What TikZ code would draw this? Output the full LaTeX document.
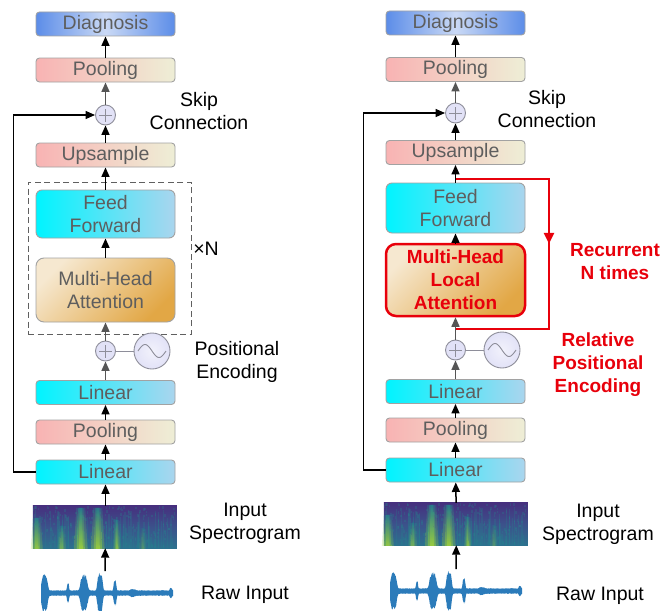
\documentclass[tikz,border=0pt]{standalone}
\usepackage{fontspec}
\setmainfont{Liberation Sans}
\usetikzlibrary{arrows.meta,decorations.markings}

\definecolor{boxline}{HTML}{A2A2A2}
\definecolor{boxtext}{HTML}{5E5E5E}
\definecolor{diagDark}{HTML}{5C8DE8}
\definecolor{diagLight}{HTML}{CAD9F5}
\definecolor{pinkL}{HTML}{F8B3B3}
\definecolor{creamR}{HTML}{EEEED6}
\definecolor{cyanL}{HTML}{00F4FF}
\definecolor{blueR}{HTML}{AAD5EE}
\definecolor{mhaLight}{HTML}{F6E8D0}
\definecolor{mhaDark}{HTML}{E2A745}
\definecolor{opFill}{HTML}{E2E2F7}
\definecolor{opLine}{HTML}{8E8E9A}
\definecolor{arrowGray}{HTML}{555555}
\definecolor{dashGray}{HTML}{606060}
\definecolor{hiRed}{HTML}{E8000B}
\definecolor{waveBlue}{HTML}{2B7BBA}
\definecolor{specTop}{HTML}{46307E}
\definecolor{specMid}{HTML}{3B528B}
\definecolor{specBot}{HTML}{2C728E}
\definecolor{specTeal}{HTML}{23898E}
\definecolor{specGreen}{HTML}{3DBC74}
\definecolor{specYellow}{HTML}{B0DD2F}

\tikzset{
  declare function={
    gflat(\t,\c,\w)=exp(-(min(3,((\t-\c)/\w)^2))^2);
    wenv(\t)=2.8+16*gflat(\t,44.5,3.6)+7*gflat(\t,68,1.3)+16*gflat(\t,84,4)
             +18*gflat(\t,100,3)+10*gflat(\t,115,1.7)+1.5*gflat(\t,133,3)
             +2.5*gflat(\t,171,1.5);
  },
  txt/.style={font=\fontsize{19.5}{23}\selectfont},
  lbl/.style={txt, align=center, text=black},
  note/.style={font=\fontsize{19}{23}\selectfont\bfseries, align=center, text=hiRed},
  layer/.style={draw=boxline, line width=0.9pt, rounded corners=3.5pt,
    minimum width=139pt, minimum height=24pt, inner sep=0pt,
    text=boxtext, txt, align=center},
  diag/.style={layer, left color=diagDark, right color=diagDark, middle color=diagLight},
  pool/.style={layer, left color=pinkL, right color=creamR},
  lin/.style={layer, left color=cyanL, right color=blueR},
  ffbox/.style={lin, minimum height=48pt, rounded corners=6pt},
  attn/.style={layer, minimum height=64pt, rounded corners=8pt,
    top color=mhaLight, bottom color=mhaDark, shading angle=45},
  op/.style={circle, draw=opLine, line width=0.9pt, fill=opFill,
    minimum size=20pt, inner sep=0pt,
    path picture={
      \draw[opLine, line width=0.9pt]
        ([xshift=-6.5pt]path picture bounding box.center) -- ([xshift=6.5pt]path picture bounding box.center)
        ([yshift=-6.5pt]path picture bounding box.center) -- ([yshift=6.5pt]path picture bounding box.center);
    }},
  pe/.style={circle, draw=opLine, line width=0.9pt, inner color=white!55!opFill,
    outer color=opFill, minimum size=36pt, inner sep=0pt},
  arr/.style={-{Triangle[width=8pt,length=9.5pt]}, line width=1.5pt, draw=black},
  garr/.style={arr, draw=arrowGray},
  skipline/.style={arr, line width=1.4pt},
  recloop/.style={draw=hiRed, line width=2.2pt, postaction={decorate},
    decoration={markings, mark=at position 0.47 with {\arrow[hiRed]{Triangle[width=10pt,length=11pt]}}}},
  spectro/.pic={
    \shade[top color=specTop, bottom color=specBot, middle color=specMid] (0,0) rectangle (144,43);
    \pgfmathsetseed{11}
    % vertical texture
    \foreach \i in {1,...,90}{
      \pgfmathsetmacro\rx{1+rnd*142}
      \pgfmathsetmacro\ry{4+rnd*30}
      \draw[specTeal, line width=1.3pt, opacity=0.22] (\rx,\ry) -- (\rx,42.5);
    }
    \foreach \i in {1,...,200}{
      \pgfmathsetmacro\rx{rnd*142}
      \pgfmathsetmacro\ry{rnd*40}
      \fill[specTeal, opacity=0.25] (\rx,\ry) rectangle ++(1.6,2.6);
    }
    % bright streaks, drawn as soft stacked layers
    \foreach \sx/\sw/\st/\so in {4/7/12/0.85, 29/5/20/0.5, 48/8/2/0.95, 65/8/2/0.95, 84/4/14/0.7, 110/4/22/0.25}{
      \foreach \k/\ko in {1.7/0.3, 1.0/0.45, 0.5/0.6}{
        \shade[bottom color=specYellow, middle color=specGreen, top color=specTeal,
               opacity={\so*\ko}]
          ({\sx-\k*\sw/2},43) -- ({\sx-\k*\sw/3},\st) -- ({\sx+\k*\sw/3},\st) -- ({\sx+\k*\sw/2},43) -- cycle;
      }
    }
  },
  wave/.pic={
    \fill[waveBlue]
      plot[domain=41:173, samples=300] (\x, {-wenv(\x)*(0.8+0.2*rnd)})
      -- plot[domain=173:41, samples=300] (\x, {wenv(\x)*(0.8+0.2*rnd)}) -- cycle;
  }
}

\begin{document}
\begin{tikzpicture}[x=1pt, y=-1pt]
\useasboundingbox (0,0) rectangle (663,610);
\fill[white] (0,0) rectangle (663,610);

% ---------------- standard transformer column ----------------
\node[diag] (diagL) at (105.5,24) {Diagnosis};
\node[pool] (poolTopL) at (105.5,70) {Pooling};
\node[op] (sumL) at (105.5,115) {};
\node[pool] (upL) at (105.5,155) {Upsample};
\node[ffbox] (ffL) at (105.5,214) {Feed\\Forward};
\node[attn] (mhaL) at (105.5,290) {Multi-Head\\Attention};
\node[draw=dashGray, dashed, dash pattern=on 6pt off 3.5pt, line width=0.9pt,
      minimum width=163pt, minimum height=152pt, inner sep=0pt] (repL) at (109.5,258) {};
\node[op] (peSumL) at (105.5,351) {};
\node[pe] (peL) at (152,351) {};
\node[lin] (lin2L) at (105.5,392.5) {Linear};
\node[pool] (poolL) at (105.5,432) {Pooling};
\node[lin] (lin1L) at (105.5,472) {Linear};
\node[minimum width=145pt, minimum height=42pt, inner sep=0pt] (specL) at (105.5,527) {};
\pic at (specL.north west) {spectro};
\pic at (0,593) {wave};
\coordinate (waveL) at (105,571);

\draw[opLine, line width=0.9pt] (peSumL) -- (peL);
\draw[opLine, line width=0.9pt, shift={(peL.center)}]
  plot[domain=-14:14, samples=50] (\x, {6.5*sin(12.857*\x)});

\draw[arr] (poolTopL) -- (diagL);
\draw[garr] (sumL) -- (poolTopL);
\draw[arr] (upL) -- (sumL);
\draw[arr] (ffL) -- (upL);
\draw[arr] (mhaL) -- (ffL);
\draw[garr] (peSumL) -- (mhaL);
\draw[garr] (lin2L) -- (peSumL);
\draw[arr] (poolL) -- (lin2L);
\draw[arr] (lin1L) -- (poolL);
\draw[arr] (specL) -- (lin1L);
\draw[arr] (waveL) -- (specL);
\draw[skipline] (lin1L.west) -- ++(-22,0) |- (sumL);

\node[lbl] (skipL) at (199,111) {Skip\\Connection};
\node[lbl] (timesL) at (206,249) {×N};
\node[lbl] (posL) at (237,361.5) {Positional\\Encoding};
\node[lbl] (inL) at (245,523.5) {Input\\Spectrogram};
\node[lbl] (rawL) at (245,595) {Raw Input};

% ---------------- recurrent local-attention column ----------------
\node[diag] (diagR) at (455.5,23) {Diagnosis};
\node[pool] (poolTopR) at (455.5,69.5) {Pooling};
\node[op] (sumR) at (455.5,113) {};
\node[pool] (upR) at (455.5,152.5) {Upsample};
\node[ffbox, minimum height=50pt] (ffR) at (455.5,208) {Feed\\Forward};
\node[attn, draw=hiRed, line width=2.5pt, rounded corners=10pt, minimum height=72pt,
      text=hiRed, font=\fontsize{19}{23}\selectfont\bfseries] (mhaR) at (455.5,280) {Multi-Head\\Local\\Attention};
\node[op] (peSumR) at (455.5,350) {};
\node[pe] (peR) at (502,350) {};
\node[lin] (lin2R) at (455.5,391.5) {Linear};
\node[pool] (poolR) at (455.5,430) {Pooling};
\node[lin] (lin1R) at (455.5,470) {Linear};
\node[minimum width=145pt, minimum height=42pt, inner sep=0pt] (specR) at (456.5,524) {};
\pic at (specR.north west) {spectro};
\pic at (349,591) {wave};
\coordinate (waveR) at (456,569);

\coordinate (loopTop) at (455.5,179);
\coordinate (loopEnd) at (455.5,329);
\draw[recloop] (loopTop) -- ++(93.5,0) |- (loopEnd);

\draw[opLine, line width=0.9pt] (peSumR) -- (peR);
\draw[opLine, line width=0.9pt, shift={(peR.center)}]
  plot[domain=-14:14, samples=50] (\x, {6.5*sin(12.857*\x)});

\draw[arr] (poolTopR) -- (diagR);
\draw[garr] (sumR) -- (poolTopR);
\draw[arr] (upR) -- (sumR);
\draw[arr] (ffR) -- (upR);
\draw[arr] (mhaR) -- (ffR);
\draw[garr] (peSumR) -- (mhaR);
\draw[garr] (lin2R) -- (peSumR);
\draw[arr] (poolR) -- (lin2R);
\draw[arr] (lin1R) -- (poolR);
\draw[arr] (specR) -- (lin1R);
\draw[arr] (waveR) -- (specR);
\draw[skipline] (lin1R.west) -- ++(-22,0) |- (sumR);

\node[lbl] (skipR) at (547,109) {Skip\\Connection};
\node[note] (recR) at (615,261.5) {Recurrent\\N times};
\node[note] (relR) at (598,364.5) {Relative\\Positional\\Encoding};
\node[lbl] (inR) at (598,524) {Input\\Spectrogram};
\node[lbl] (rawR) at (600,596) {Raw Input};
\end{tikzpicture}
\end{document}
